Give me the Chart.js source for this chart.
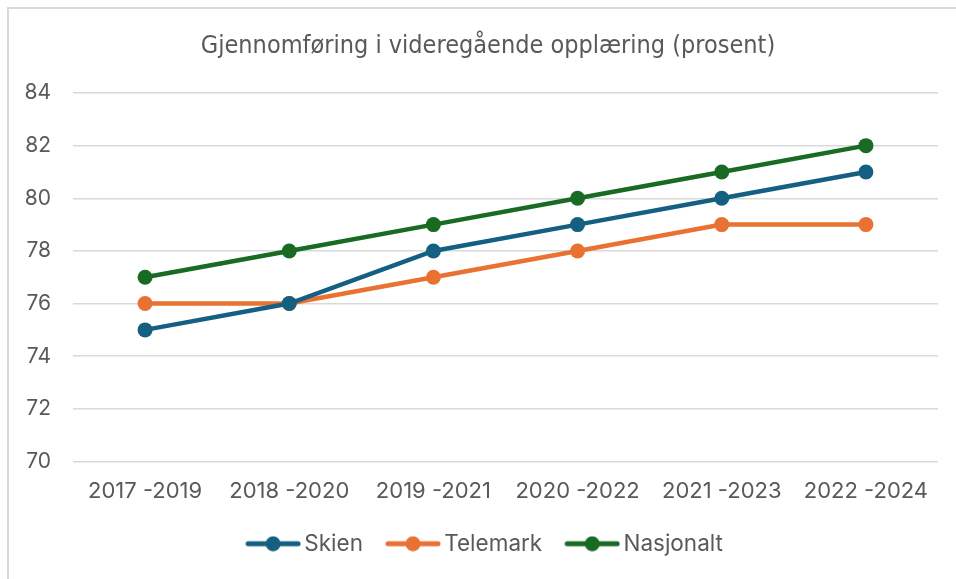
<!DOCTYPE html>
<html lang="no">
<head>
<meta charset="utf-8">
<title>Gjennomføring i videregående opplæring</title>
<script src="https://cdn.jsdelivr.net/npm/chart.js@4.4.1/dist/chart.umd.min.js"></script>
<style>
  html, body { margin: 0; padding: 0; background: #fff; }
  #wrap { position: relative; width: 956px; height: 579px; overflow: hidden; }
  #frame { position: absolute; left: 7px; top: 7px; width: 1000px; height: 600px;
           border-left: 2px solid #d9d9d9; border-top: 2px solid #d9d9d9; }
  canvas { position: absolute; left: 0; top: 0; }
</style>
</head>
<body>
<div id="wrap">
  <div id="frame"></div>
  <canvas id="lineChart" width="956" height="579"></canvas>
</div>
<script>
const periods = ["2017 -2019", "2018 -2020", "2019 -2021", "2020 -2022", "2021 -2023", "2022 -2024"];
const skien = [75, 76, 78, 79, 80, 81];
const telemark = [76, 76, 77, 78, 79, 79];
const nasjonalt = [77, 78, 79, 80, 81, 82];
const yTicks = [70, 72, 74, 76, 78, 80, 82, 84];

const textColor = "#595959";
const mainFont = "Inter, 'Liberation Sans', sans-serif";

// legend symbol: line with a dot in the middle, like the spreadsheet one
function legendMark(color) {
    const c = document.createElement("canvas");
    c.width = 56;
    c.height = 16;
    const g = c.getContext("2d");
    g.strokeStyle = color;
    g.lineWidth = 5;
    g.lineCap = "round";
    g.beginPath();
    g.moveTo(3, 8);
    g.lineTo(53, 8);
    g.stroke();
    g.fillStyle = color;
    g.beginPath();
    g.arc(28, 8, 7.5, 0, Math.PI * 2);
    g.fill();
    return c;
}

function series(label, data, color) {
    return {
        label: label,
        data: data,
        borderColor: color,
        backgroundColor: color,
        borderWidth: 4.5,
        pointRadius: 7.5,
        pointHoverRadius: 7.5,
        pointBorderWidth: 0,
        fill: false,
        tension: 0,
        mark: legendMark(color)
    };
}

// title and legend are centred on the whole frame, not on the canvas minus the right gap
const centreShift = {
    id: "centreShift",
    afterLayout: function (c) {
        [c.titleBlock, c.legend].forEach(function (b) {
            if (b) { b.left += 19; b.right += 19; }
        });
    }
};

const ctx = document.getElementById("lineChart").getContext("2d");
const chart = new Chart(ctx, {
    type: "line",
    data: {
        labels: periods,
        datasets: [
            series("Skien", skien, "#156082"),
            series("Telemark", telemark, "#e97132"),
            series("Nasjonalt", nasjonalt, "#196b24")
        ]
    },
    plugins: [centreShift],
    options: {
        responsive: false,
        animation: false,
        layout: { padding: { left: 0, right: 18, top: 0, bottom: 14 } },
        plugins: {
            title: {
                display: true,
                text: "Gjennomføring i videregående opplæring (prosent)",
                color: textColor,
                font: { family: "'Liberation Sans Narrow', 'DejaVu Sans Condensed', sans-serif", size: 25, weight: "normal" },
                padding: { top: 31, bottom: 32 }
            },
            legend: {
                position: "bottom",
                labels: {
                    color: textColor,
                    font: { family: mainFont, size: 22.5 },
                    usePointStyle: true,
                    pointStyleWidth: 40,
                    padding: 30,
                    generateLabels: function (c) {
                        const items = Chart.defaults.plugins.legend.labels.generateLabels(c);
                        items.forEach(function (it) {
                            it.pointStyle = c.data.datasets[it.datasetIndex].mark;
                        });
                        return items;
                    }
                }
            },
            tooltip: { enabled: false }
        },
        scales: {
            x: {
                offset: true,
                afterFit: function (scale) { scale.height = 41; },
                grid: { display: false, drawTicks: false },
                border: { display: false },
                ticks: { color: textColor, font: { family: mainFont, size: 22 }, padding: 17, maxRotation: 0 }
            },
            y: {
                min: 70,
                max: 84,
                afterFit: function (scale) { scale.width = 73; },
                afterBuildTicks: function (scale) {
                    scale.ticks = yTicks.map(function (v) { return { value: v }; });
                },
                grid: { color: "#d9d9d9", lineWidth: 1.5, drawTicks: false },
                border: { display: false },
                ticks: { color: textColor, font: { family: mainFont, size: 21 }, padding: 22 }
            }
        }
    }
});
</script>
</body>
</html>
